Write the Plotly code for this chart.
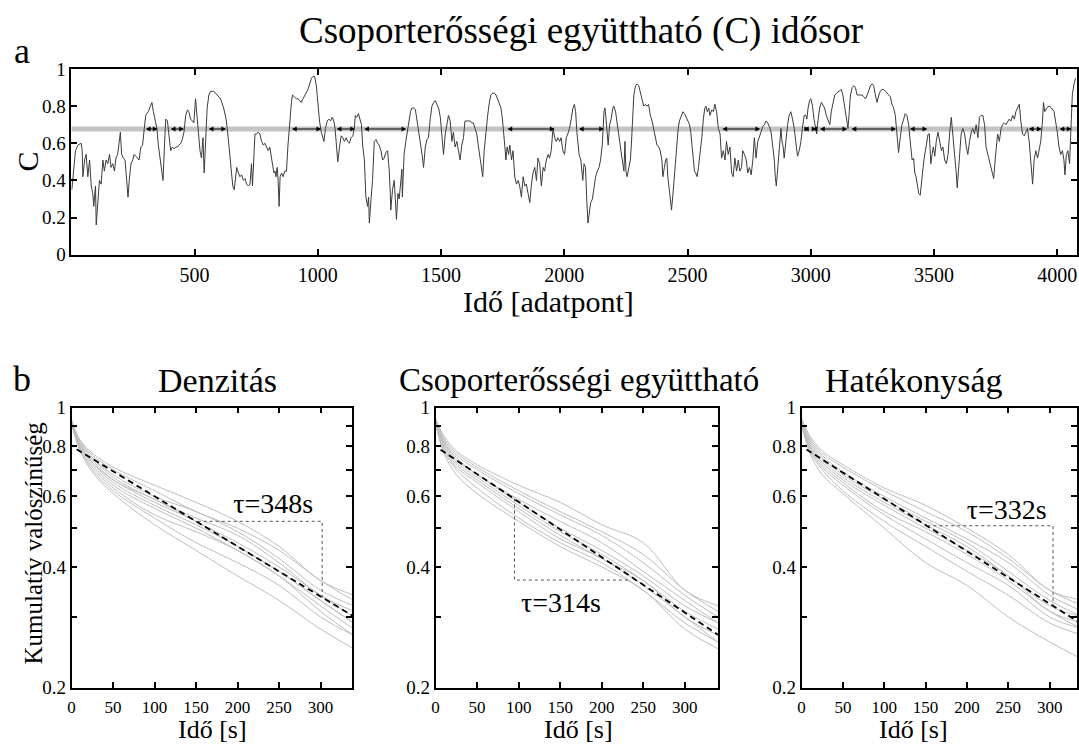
import plotly.graph_objects as go

FONT = "Liberation Serif, Times New Roman, serif"

# ---------------- panel a: C time series ----------------
ido_adatpont = [
    2, 17, 27, 40, 44, 47, 54, 60, 67, 74,
    81, 87, 91, 98, 101, 107, 114, 121, 128, 134,
    141, 148, 155, 161, 168, 175, 181, 188, 195, 199,
    204, 211, 218, 224, 230, 235, 242, 249, 255, 262,
    269, 275, 282, 289, 296, 302, 312, 320, 327, 333,
    340, 347, 353, 360, 367, 372, 378, 383, 390, 397,
    403, 410, 417, 423, 430, 437, 444, 450, 457, 464,
    471, 477, 484, 491, 497, 504, 508, 515, 522, 528,
    534, 539, 545, 551, 558, 565, 578, 592, 605, 618,
    628, 635, 641, 648, 655, 661, 668,
    671, 678, 684, 691, 698, 705, 711, 718, 725, 731,
    735, 741, 745, 752, 758, 765, 772, 779, 785, 792,
    799, 805, 812, 816, 822, 826, 830, 835, 839, 843,
    847, 853, 859, 866, 873, 879, 886, 893, 897, 906,
    913, 920, 926, 933, 940, 947, 953, 960, 967, 974,
    980, 987, 994, 1000, 1007, 1014, 1021, 1025, 1031, 1038,
    1045, 1052, 1058, 1065, 1070, 1074, 1078, 1081, 1088, 1095,
    1101, 1108, 1115, 1121, 1128, 1135, 1142, 1148, 1152, 1158,
    1165, 1171, 1177, 1182, 1189, 1195, 1202, 1206, 1209, 1216,
    1222, 1229, 1236, 1243, 1249, 1256, 1263, 1269, 1276, 1283,
    1290, 1294, 1296, 1303, 1310, 1314, 1319, 1325, 1330, 1337,
    1341, 1343, 1350, 1357, 1364,
    1369, 1376, 1382, 1389, 1396, 1402, 1409, 1416,
    1423, 1429, 1436, 1443, 1449, 1456, 1463, 1470, 1476, 1483,
    1490, 1497, 1503, 1510, 1517, 1523, 1530, 1537, 1544, 1550,
    1557, 1564, 1571, 1577, 1584, 1591, 1597, 1604, 1611, 1618,
    1624, 1631, 1638, 1645, 1651, 1658, 1665, 1669, 1675, 1682,
    1689, 1696, 1702, 1709, 1716, 1723, 1729, 1736, 1743, 1749,
    1755, 1759, 1763, 1768, 1774, 1779, 1786, 1792, 1799, 1806,
    1813, 1819, 1826, 1833, 1840, 1846, 1853, 1860, 1866, 1873,
    1880, 1887, 1893, 1900, 1907, 1914, 1920, 1927, 1934, 1940,
    1947, 1954, 1961, 1967, 1974, 1981, 1987, 1994, 2001, 2008,
    2014, 2021, 2028, 2035, 2041,
    2046, 2051, 2056, 2060, 2067, 2071, 2075, 2080, 2086, 2091,
    2096, 2102, 2107, 2114, 2120, 2127, 2134, 2141, 2147, 2154,
    2161, 2165, 2170, 2174, 2178, 2184, 2190, 2197, 2201, 2208,
    2215, 2221, 2228, 2235, 2242, 2246, 2250, 2255, 2262, 2268,
    2272, 2277, 2282, 2289, 2295, 2302, 2309, 2316, 2322, 2329,
    2336, 2342, 2349, 2356, 2363, 2369, 2376, 2383, 2389, 2396,
    2400, 2406, 2411, 2416, 2420, 2426, 2430, 2435, 2441, 2446,
    2451, 2457, 2462, 2467, 2474, 2481, 2488, 2494, 2501, 2508,
    2513, 2519, 2524, 2528, 2533, 2539, 2544, 2551, 2558, 2564,
    2570, 2575, 2580, 2586, 2591, 2598, 2605, 2611, 2618, 2625,
    2632, 2638, 2645, 2652, 2658, 2665, 2672, 2679, 2685, 2692,
    2699, 2706, 2712, 2719,
    2724, 2731, 2738, 2744, 2751, 2758, 2765, 2771, 2778, 2785,
    2791, 2798, 2805, 2812, 2818, 2825, 2832, 2839, 2845, 2852,
    2856, 2860, 2865, 2872, 2879, 2883, 2888, 2892, 2899, 2906,
    2912, 2919, 2926, 2933, 2939, 2946, 2953, 2960, 2966, 2973,
    2980, 2984, 2989, 2995, 3000, 3007, 3013, 3019, 3024, 3029,
    3036, 3043, 3050, 3056, 3063, 3070, 3077, 3083, 3090, 3097,
    3105, 3114, 3124, 3130, 3137, 3144, 3151, 3156, 3161, 3168,
    3175, 3181, 3188, 3195, 3202, 3208, 3215, 3222, 3229, 3235,
    3242, 3249, 3255, 3262, 3269, 3276, 3282, 3289, 3296, 3303,
    3309, 3316, 3323, 3329, 3336, 3343, 3350, 3354, 3356, 3363,
    3370, 3377, 3383, 3390, 3397,
    3402, 3406, 3411, 3417, 3422, 3427, 3433, 3438, 3444, 3449,
    3454, 3460, 3465, 3470, 3476, 3481, 3487, 3492, 3497, 3503,
    3509, 3516, 3523, 3530, 3536, 3543, 3550, 3557, 3563, 3570,
    3574, 3579, 3586, 3590, 3594, 3600, 3605, 3610, 3617, 3624,
    3631, 3637, 3644, 3651, 3657, 3664, 3671, 3678, 3684, 3691,
    3698, 3705, 3711, 3718, 3725, 3731, 3738, 3742, 3748, 3753,
    3758, 3765, 3772, 3778, 3785, 3792, 3799, 3805, 3812, 3819,
    3826, 3832, 3839, 3846, 3852, 3859, 3866, 3873, 3879, 3886,
    3893, 3900, 3906, 3913, 3920, 3926, 3933, 3940, 3944, 3949,
    3957, 3967, 3976, 3987, 3994, 4000, 4007, 4014, 4021, 4027,
    4031, 4037, 4043, 4050, 4054, 4061, 4068, 4074,
]
c_ertek = [
    0.35, 0.56, 0.59, 0.60, 0.56, 0.42, 0.51, 0.54, 0.42, 0.51,
    0.37, 0.33, 0.26, 0.37, 0.16, 0.30, 0.40, 0.38, 0.51, 0.45,
    0.51, 0.49, 0.54, 0.47, 0.49, 0.45, 0.52, 0.54, 0.61, 0.66,
    0.54, 0.52, 0.51, 0.42, 0.31, 0.40, 0.49, 0.51, 0.54, 0.53,
    0.52, 0.51, 0.58, 0.59, 0.68, 0.75, 0.77, 0.80, 0.82, 0.77,
    0.73, 0.68, 0.59, 0.52, 0.47, 0.40, 0.59, 0.73, 0.72, 0.63,
    0.56, 0.58, 0.57, 0.58, 0.58, 0.59, 0.60, 0.62, 0.66, 0.75,
    0.78, 0.77, 0.73, 0.72, 0.71, 0.84, 0.77, 0.68, 0.56, 0.52,
    0.63, 0.44, 0.63, 0.79, 0.86, 0.88, 0.88, 0.86, 0.84, 0.79,
    0.73, 0.65, 0.56, 0.47, 0.37, 0.35, 0.42,
    0.47, 0.44, 0.42, 0.43, 0.40, 0.41, 0.38, 0.37, 0.38, 0.49,
    0.37, 0.54, 0.65, 0.65, 0.66, 0.65, 0.61, 0.59, 0.60, 0.58,
    0.56, 0.58, 0.52, 0.47, 0.44, 0.45, 0.42, 0.47, 0.40, 0.26,
    0.42, 0.44, 0.42, 0.45, 0.45, 0.59, 0.72, 0.82, 0.86, 0.85,
    0.84, 0.84, 0.83, 0.82, 0.84, 0.86, 0.87, 0.89, 0.92, 0.95,
    0.96, 0.96, 0.91, 0.80, 0.72, 0.66, 0.63, 0.61, 0.68, 0.72,
    0.73, 0.72, 0.74, 0.72, 0.68, 0.61, 0.54, 0.50, 0.58, 0.64,
    0.63, 0.61, 0.63, 0.61, 0.60, 0.63, 0.64, 0.68, 0.75, 0.74,
    0.76, 0.72, 0.70, 0.59, 0.51, 0.31, 0.26, 0.31, 0.17, 0.30,
    0.40, 0.61, 0.62, 0.60, 0.59, 0.56, 0.51, 0.52, 0.55, 0.56,
    0.45, 0.33, 0.24, 0.35, 0.40, 0.31, 0.19, 0.33, 0.30, 0.40,
    0.46, 0.31, 0.54, 0.61, 0.68,
    0.70, 0.77, 0.79, 0.79, 0.78, 0.73, 0.68, 0.61,
    0.54, 0.47, 0.58, 0.62, 0.63, 0.73, 0.80, 0.82, 0.83, 0.81,
    0.79, 0.74, 0.66, 0.54, 0.65, 0.70, 0.75, 0.72, 0.61, 0.66,
    0.58, 0.61, 0.56, 0.51, 0.59, 0.63, 0.72, 0.72, 0.72, 0.72,
    0.71, 0.71, 0.68, 0.65, 0.59, 0.52, 0.45, 0.42, 0.56, 0.68,
    0.75, 0.82, 0.86, 0.87, 0.87, 0.86, 0.84, 0.82, 0.79, 0.73,
    0.66, 0.58, 0.51, 0.58, 0.54, 0.59, 0.51, 0.56, 0.42, 0.38,
    0.40, 0.37, 0.31, 0.42, 0.37, 0.38, 0.33, 0.28, 0.37, 0.44,
    0.47, 0.40, 0.52, 0.49, 0.37, 0.47, 0.45, 0.51, 0.54, 0.52,
    0.56, 0.68, 0.63, 0.61, 0.63, 0.61, 0.63, 0.56, 0.54, 0.63,
    0.65, 0.68, 0.73, 0.79, 0.81,
    0.77, 0.66, 0.61, 0.54, 0.51, 0.44, 0.40, 0.49, 0.47, 0.30,
    0.17, 0.23, 0.28, 0.30, 0.37, 0.42, 0.45, 0.47, 0.51, 0.59,
    0.77, 0.79, 0.72, 0.63, 0.59, 0.70, 0.73, 0.79, 0.80, 0.77,
    0.70, 0.63, 0.56, 0.51, 0.45, 0.61, 0.45, 0.42, 0.47, 0.51,
    0.59, 0.73, 0.86, 0.91, 0.92, 0.91, 0.87, 0.84, 0.80, 0.81,
    0.80, 0.81, 0.75, 0.72, 0.68, 0.63, 0.59, 0.58, 0.56, 0.51,
    0.42, 0.47, 0.51, 0.52, 0.42, 0.35, 0.30, 0.24, 0.33, 0.42,
    0.51, 0.61, 0.68, 0.72, 0.75, 0.77, 0.76, 0.74, 0.72, 0.70,
    0.66, 0.59, 0.51, 0.45, 0.44, 0.42, 0.47, 0.54, 0.63, 0.73,
    0.79, 0.80, 0.77, 0.79, 0.75, 0.78, 0.77, 0.81, 0.77, 0.68,
    0.65, 0.52, 0.56, 0.51, 0.61, 0.54, 0.58, 0.44, 0.42, 0.52,
    0.45, 0.51, 0.45, 0.47,
    0.56, 0.54, 0.51, 0.44, 0.47, 0.43, 0.51, 0.63, 0.52, 0.61,
    0.63, 0.66, 0.69, 0.70, 0.72, 0.71, 0.69, 0.66, 0.59, 0.51,
    0.42, 0.37, 0.45, 0.58, 0.68, 0.61, 0.58, 0.52, 0.63, 0.70,
    0.75, 0.77, 0.73, 0.68, 0.61, 0.53, 0.56, 0.61, 0.68, 0.75,
    0.75, 0.73, 0.79, 0.83, 0.84, 0.80, 0.73, 0.68, 0.65, 0.72,
    0.79, 0.82, 0.80, 0.79, 0.75, 0.72, 0.70, 0.77, 0.82, 0.86,
    0.87, 0.88, 0.89, 0.86, 0.79, 0.72, 0.68, 0.77, 0.86, 0.90,
    0.91, 0.90, 0.86, 0.86, 0.86, 0.86, 0.85, 0.84, 0.86, 0.89,
    0.91, 0.92, 0.91, 0.86, 0.82, 0.86, 0.88, 0.89, 0.89, 0.88,
    0.87, 0.86, 0.85, 0.81, 0.79, 0.75, 0.66, 0.59, 0.55, 0.63,
    0.70, 0.73, 0.76, 0.75, 0.70,
    0.63, 0.56, 0.51, 0.52, 0.44, 0.42, 0.37, 0.33, 0.32, 0.37,
    0.45, 0.52, 0.56, 0.58, 0.65, 0.65, 0.49, 0.54, 0.58, 0.53,
    0.61, 0.66, 0.60, 0.56, 0.58, 0.51, 0.49, 0.54, 0.65, 0.74,
    0.68, 0.61, 0.52, 0.44, 0.36, 0.47, 0.61, 0.65, 0.68, 0.65,
    0.58, 0.54, 0.61, 0.66, 0.68, 0.65, 0.70, 0.63, 0.74, 0.75,
    0.75, 0.70, 0.58, 0.54, 0.51, 0.47, 0.44, 0.41, 0.51, 0.58,
    0.65, 0.61, 0.68, 0.70, 0.71, 0.70, 0.72, 0.73, 0.72, 0.75,
    0.73, 0.77, 0.79, 0.81, 0.72, 0.65, 0.64, 0.66, 0.68, 0.61,
    0.49, 0.38, 0.51, 0.56, 0.52, 0.56, 0.61, 0.72, 0.82, 0.77,
    0.79, 0.80, 0.79, 0.77, 0.72, 0.66, 0.58, 0.54, 0.56, 0.51,
    0.43, 0.54, 0.56, 0.49, 0.63, 0.86, 0.92, 0.95,
]
kuszob = 0.677
nyil_kezdet = [296, 397, 551, 889, 1070, 1182, 1763, 2053, 2635, 2966, 3000, 3031, 3159, 3396, 3878, 4003]
nyil_veg = [350, 457, 628, 1014, 1151, 1359, 1961, 2161, 2795, 2994, 3023, 3148, 3346, 3473, 3937, 4058]
a_xticks = [500, 1000, 1500, 2000, 2500, 3000, 3500, 4000]
a_yticks = [0, 0.2, 0.4, 0.6, 0.8, 1]
a_yticktext = ["0", "0.2", "0.4", "0.6", "0.8", "1"]

# ---------------- panel b: cumulative distributions ----------------
surv_t = [0, 10, 25, 50, 100, 150, 200, 250, 300, 340]
denz_gorbek = [
    [0.93, 0.83, 0.77, 0.71, 0.64, 0.58, 0.52, 0.45, 0.37, 0.34],
    [0.93, 0.83, 0.76, 0.70, 0.62, 0.55, 0.50, 0.44, 0.37, 0.33],
    [0.92, 0.82, 0.75, 0.68, 0.60, 0.55, 0.49, 0.42, 0.35, 0.32],
    [0.92, 0.82, 0.75, 0.67, 0.59, 0.53, 0.48, 0.41, 0.34, 0.31],
    [0.92, 0.81, 0.74, 0.66, 0.59, 0.52, 0.46, 0.40, 0.34, 0.30],
    [0.92, 0.81, 0.73, 0.66, 0.58, 0.52, 0.45, 0.39, 0.33, 0.29],
    [0.92, 0.80, 0.73, 0.65, 0.57, 0.51, 0.45, 0.39, 0.33, 0.29],
    [0.91, 0.80, 0.72, 0.64, 0.56, 0.50, 0.44, 0.38, 0.32, 0.28],
    [0.91, 0.79, 0.71, 0.63, 0.54, 0.49, 0.44, 0.38, 0.31, 0.27],
    [0.91, 0.79, 0.70, 0.62, 0.53, 0.46, 0.41, 0.36, 0.30, 0.27],
    [0.91, 0.78, 0.69, 0.61, 0.51, 0.44, 0.38, 0.33, 0.28, 0.25],
]
csop_gorbek = [
    [0.94, 0.85, 0.78, 0.72, 0.64, 0.58, 0.51, 0.46, 0.35, 0.32],
    [0.93, 0.84, 0.77, 0.71, 0.62, 0.55, 0.49, 0.43, 0.35, 0.31],
    [0.93, 0.83, 0.76, 0.70, 0.61, 0.54, 0.48, 0.41, 0.34, 0.30],
    [0.93, 0.82, 0.75, 0.68, 0.59, 0.52, 0.46, 0.39, 0.33, 0.29],
    [0.92, 0.82, 0.74, 0.68, 0.58, 0.50, 0.44, 0.38, 0.32, 0.29],
    [0.92, 0.81, 0.73, 0.67, 0.57, 0.49, 0.43, 0.37, 0.31, 0.28],
    [0.92, 0.80, 0.72, 0.66, 0.56, 0.48, 0.42, 0.37, 0.30, 0.27],
    [0.92, 0.79, 0.71, 0.65, 0.55, 0.47, 0.42, 0.36, 0.30, 0.26],
    [0.91, 0.78, 0.70, 0.63, 0.53, 0.46, 0.41, 0.35, 0.29, 0.26],
    [0.91, 0.77, 0.68, 0.61, 0.52, 0.45, 0.40, 0.35, 0.28, 0.25],
]
hat_gorbek = [
    [0.94, 0.85, 0.78, 0.72, 0.63, 0.57, 0.50, 0.43, 0.35, 0.33],
    [0.93, 0.84, 0.77, 0.71, 0.62, 0.55, 0.49, 0.42, 0.35, 0.32],
    [0.93, 0.83, 0.76, 0.69, 0.60, 0.53, 0.47, 0.41, 0.34, 0.31],
    [0.93, 0.82, 0.75, 0.68, 0.59, 0.52, 0.46, 0.39, 0.33, 0.30],
    [0.92, 0.81, 0.74, 0.67, 0.58, 0.51, 0.45, 0.38, 0.32, 0.30],
    [0.92, 0.80, 0.73, 0.66, 0.57, 0.50, 0.44, 0.38, 0.31, 0.29],
    [0.92, 0.80, 0.72, 0.65, 0.55, 0.49, 0.43, 0.37, 0.31, 0.28],
    [0.91, 0.79, 0.71, 0.64, 0.54, 0.47, 0.41, 0.36, 0.30, 0.28],
    [0.91, 0.78, 0.70, 0.62, 0.52, 0.45, 0.39, 0.34, 0.29, 0.27],
    [0.91, 0.77, 0.68, 0.61, 0.50, 0.41, 0.36, 0.30, 0.26, 0.235],
]
illesztes_t = [6, 340]
denz_illesztes = [0.787, 0.301]
csop_illesztes = [0.785, 0.271]
hat_illesztes = [0.786, 0.287]

denz_haromszog_t = [152, 302, 302]
denz_haromszog_y = [0.52, 0.52, 0.335]
csop_haromszog_t = [95, 95, 235]
csop_haromszog_y = [0.593, 0.371, 0.371]
hat_haromszog_t = [152, 304, 304]
hat_haromszog_y = [0.507, 0.507, 0.32]

tau_cimkek = ["τ=348s", "τ=314s", "τ=332s"]
tau_t = [243, 151, 248]
tau_y = [0.567, 0.322, 0.55]

panel_cimek = ["Denzitás", "Csoporterősségi együttható", "Hatékonyság"]
b_xticks = [0, 50, 100, 150, 200, 250, 300]
b_yticks = [0.2, 0.3, 0.4, 0.5, 0.6, 0.7, 0.8, 0.9, 1.0]
b_yticktext = ["0.2", "", "0.4", "", "0.6", "", "0.8", "", "1"]
b_xmax = [338, 340, 333]

W, H = 1079, 753


def px(x):
    return x / W


def py(y):
    return 1 - y / H


fig = go.Figure()

# threshold band
fig.add_trace(go.Scatter(x=[0, 4085], y=[kuszob, kuszob], mode="lines",
                         line=dict(color="#c4c4c4", width=5), hoverinfo="skip",
                         xaxis="x", yaxis="y", showlegend=False))
fig.add_trace(go.Scatter(x=ido_adatpont, y=c_ertek, mode="lines",
                         line=dict(color="#3c3c3c", width=1), xaxis="x", yaxis="y",
                         showlegend=False))

annotations = []
for a0, a1 in zip(nyil_kezdet, nyil_veg):
    annotations.append(dict(x=a1, y=kuszob, ax=a0, ay=kuszob, xref="x", yref="y",
                            axref="x", ayref="y", text="", showarrow=True,
                            arrowhead=2, startarrowhead=2, arrowside="end+start",
                            arrowsize=0.8, arrowwidth=1.2, arrowcolor="black"))

groups = [denz_gorbek, csop_gorbek, hat_gorbek]
fits = [denz_illesztes, csop_illesztes, hat_illesztes]
tris = [(denz_haromszog_t, denz_haromszog_y), (csop_haromszog_t, csop_haromszog_y),
        (hat_haromszog_t, hat_haromszog_y)]
for i in range(3):
    xa, ya = f"x{i + 2}", f"y{i + 2}"
    for g in groups[i]:
        fig.add_trace(go.Scatter(x=surv_t, y=g, mode="lines", line_shape="spline",
                                 line=dict(color="#bdbdbd", width=1), xaxis=xa, yaxis=ya,
                                 showlegend=False))
    fig.add_trace(go.Scatter(x=illesztes_t, y=fits[i], mode="lines",
                             line=dict(color="black", width=1.8, dash="6px,4px"),
                             xaxis=xa, yaxis=ya, showlegend=False))
    fig.add_trace(go.Scatter(x=tris[i][0], y=tris[i][1], mode="lines",
                             line=dict(color="#555555", width=1, dash="dot"),
                             xaxis=xa, yaxis=ya, showlegend=False))
    fig.add_trace(go.Scatter(x=[tau_t[i]], y=[tau_y[i]], mode="text", text=[tau_cimkek[i]],
                             textfont=dict(family=FONT, size=28, color="black"),
                             xaxis=xa, yaxis=ya, showlegend=False))


def axis_common(size):
    return dict(showline=True, linecolor="black", linewidth=1.5, mirror="allticks",
                ticks="inside", ticklen=6, tickwidth=1.5, tickcolor="black",
                showgrid=False, zeroline=False,
                tickfont=dict(family=FONT, size=size, color="black"))


layout = dict(
    width=W, height=H, margin=dict(l=0, r=0, t=0, b=0),
    paper_bgcolor="white", plot_bgcolor="white", showlegend=False,
    font=dict(family=FONT, color="black"),
    xaxis=dict(domain=[px(67.7), 1.0], range=[0, 4080], tickvals=a_xticks, anchor="y",
               ticklabelstandoff=2, **axis_common(20)),
    yaxis=dict(domain=[py(251.7), py(60.7)], range=[0, 1], tickvals=a_yticks,
               ticktext=a_yticktext, anchor="x", **axis_common(19)),
)
b_dom = [(68, 350), (434, 718), (802, 1079)]
for i in range(3):
    n = i + 2
    layout[f"xaxis{n}"] = dict(domain=[px(b_dom[i][0]), px(b_dom[i][1])], range=[0, b_xmax[i]],
                               tickvals=b_xticks, anchor=f"y{n}", ticklabelstandoff=3,
                               **axis_common(17))
    layout[f"yaxis{n}"] = dict(domain=[py(697), py(409)], type="log",
                               range=[-0.69897, 0], tickvals=b_yticks, ticktext=b_yticktext,
                               anchor=f"x{n}", **axis_common(19))


def txt(s, x, y, size, angle=0):
    return dict(text=s, x=px(x), y=py(y), xref="paper", yref="paper", showarrow=False,
                font=dict(family=FONT, size=size, color="black"), textangle=angle,
                xanchor="center", yanchor="middle")


annotations += [
    txt("a", 18, 42, 36),
    txt("Csoporterősségi együttható (C) idősor", 580, 22, 37),
    txt("C", 24, 156, 30, -90),
    txt("Idő [adatpont]", 548, 300, 30),
    txt("b", 18, 380, 36),
    txt(panel_cimek[0], 215, 381, 34),
    txt(panel_cimek[1], 578, 381, 33),
    txt(panel_cimek[2], 915, 381, 34),
    txt("Kumulatív valószínűség", 30, 548, 25, -90),
    txt("Idő [s]", 210, 740, 26),
    txt("Idő [s]", 578, 740, 26),
    txt("Idő [s]", 915, 740, 26),
]
layout["annotations"] = annotations
fig.update_layout(**layout)
fig.write_html("out.html")
